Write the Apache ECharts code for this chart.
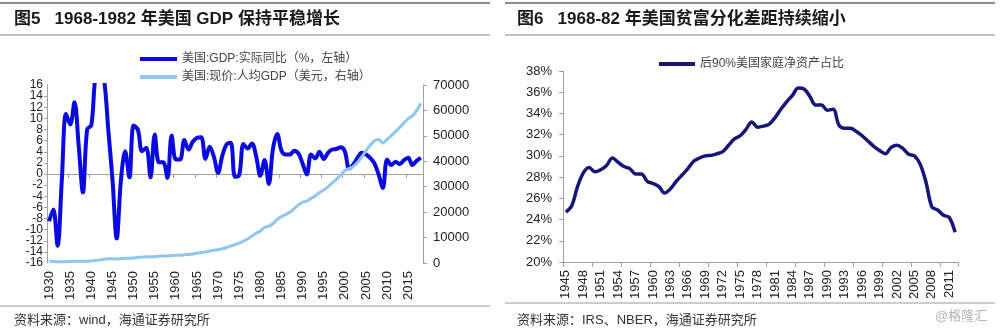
<!DOCTYPE html>
<html>
<head>
<meta charset="utf-8">
<script src="https://cdn.jsdelivr.net/npm/echarts/dist/echarts.min.js"></script>
<style>
html,body{margin:0;padding:0;background:#fff;}
#c{width:1000px;height:330px;}
</style>
</head>
<body>
<div id="c"></div>
<script>
// ---------- Data (left chart) ----------
const gdpYears = ['1930','1931','1932','1933','1934','1935','1936','1937','1938','1939',
'1940','1941','1942','1943','1944','1945','1946','1947','1948','1949',
'1950','1951','1952','1953','1954','1955','1956','1957','1958','1959',
'1960','1961','1962','1963','1964','1965','1966','1967','1968','1969',
'1970','1971','1972','1973','1974','1975','1976','1977','1978','1979',
'1980','1981','1982','1983','1984','1985','1986','1987','1988','1989',
'1990','1991','1992','1993','1994','1995','1996','1997','1998','1999',
'2000','2001','2002','2003','2004','2005','2006','2007','2008','2009',
'2010','2011','2012','2013','2014','2015','2016','2017','2018'];
const gdpGrowth = [-8.5,-6.4,-12.9,-1.2,10.8,8.9,12.9,5.1,-3.3,8.0,
8.8,17.7,18.9,17.0,8.0,-1.0,-11.6,-1.1,4.1,-0.6,
8.7,8.0,4.1,4.7,-0.6,7.1,2.1,2.1,-0.7,6.9,
2.6,2.6,6.1,4.4,5.8,6.5,6.6,2.7,4.9,3.1,
0.2,3.3,5.3,5.6,-0.5,-0.2,5.4,4.6,5.5,3.2,
-0.3,2.5,-1.8,4.6,7.2,4.2,3.5,3.5,4.2,3.7,
1.9,-0.1,3.5,2.8,4.0,2.7,3.8,4.4,4.5,4.8,
4.1,1.0,1.7,2.9,3.8,3.5,2.9,1.9,-0.1,-2.5,
2.6,1.6,2.2,1.8,2.5,2.9,1.6,2.4,2.9];
const gdpPerCapita = [748,624,476,455,528,583,661,722,673,714,
779,969,1231,1486,1623,1631,1611,1734,1874,1828,
1971,2242,2333,2433,2399,2569,2665,2761,2756,2939,
3007,3067,3244,3375,3574,3828,4146,4336,4696,5032,
5234,5609,6094,6726,7226,7801,8592,9453,10565,11674,
12575,13976,14434,15544,17121,18237,19071,20039,21417,22857,
23889,24342,25419,26387,27695,28691,29968,31459,32854,34515,
36330,37134,37998,39490,41725,44123,46302,48050,48570,47195,
48651,50066,51784,53291,55124,56763,57867,59915,62805];
const leftTicks = {min:-16, max:16, step:2};
const rightTicks = {min:0, max:70000, step:10000};
const gdpName = '美国:GDP:实际同比（%，左轴）';
const pcName = '美国:现价:人均GDP（美元，右轴）';

// ---------- Data (right chart) ----------
const wealthYears = ['1945','1946','1947','1948','1949','1950','1951','1952','1953','1954',
'1955','1956','1957','1958','1959','1960','1961','1962','1963','1964',
'1965','1966','1967','1968','1969','1970','1971','1972','1973','1974',
'1975','1976','1977','1978','1979','1980','1981','1982','1983','1984',
'1985','1986','1987','1988','1989','1990','1991','1992','1993','1994',
'1995','1996','1997','1998','1999','2000','2001','2002','2003','2004',
'2005','2006','2007','2008','2009','2010','2011','2012'];
const wealthShare = [24.7,25.3,27.1,28.4,28.9,28.5,28.7,29.1,29.8,29.4,
29.0,28.8,28.3,28.3,27.6,27.4,27.1,26.5,26.9,27.6,
28.2,28.8,29.5,29.8,30.0,30.05,30.2,30.4,31.0,31.6,
31.9,32.5,33.2,32.7,32.8,33.0,33.6,34.4,35.1,35.7,
36.4,36.3,35.6,34.8,34.8,34.3,34.4,32.9,32.6,32.6,
32.3,31.9,31.4,30.9,30.5,30.2,30.8,31.0,30.7,30.15,
30.0,29.2,27.5,25.2,24.9,24.4,24.2,22.8];
const wealthTicks = {min:20, max:38, step:2};
const wealthName = '后90%美国家庭净资产占比';

// ---------- Texts ----------
const title1 = '图5   1968-1982 年美国 GDP 保持平稳增长';
const title2 = '图6   1968-82 年美国贫富分化差距持续缩小';
const source1 = '资料来源：wind，海通证券研究所';
const source2 = '资料来源：IRS、NBER，海通证券研究所';
const watermark = '@格隆汇';

const FONT = '"Liberation Sans", Arial, "Noto Sans CJK SC", sans-serif';
const axisGray = '#a0a0a0';
const labelColor = '#222';

const chart = echarts.init(document.getElementById('c'), null, {renderer:'canvas'});

function hline(x1, x2, y, color, w) {
  return {type:'line', shape:{x1:x1, y1:y, x2:x2, y2:y}, style:{stroke:color, lineWidth:w}, silent:true};
}
function txt(t, x, y, size, weight, color) {
  return {type:'text', x:x, y:y, silent:true,
    style:{text:t, fontSize:size, fontWeight:weight, fontFamily:FONT, fill:color, verticalAlign:'middle', align:'left'}};
}

const option = {
  animation: false,
  backgroundColor: '#fff',
  textStyle: {fontFamily: FONT},
  grid: [
    {left:47, right:577, top:85, bottom:67},
    {left:563, right:42, top:71, bottom:68}
  ],
  legend: [
    {data:[gdpName, pcName], orient:'vertical', left:135, top:47, icon:'rect',
     itemWidth:37, itemHeight:4, itemGap:4,
     textStyle:{fontSize:12, color:'#444', fontFamily:FONT, lineHeight:14}},
    {data:[wealthName], left:654, top:53, icon:'rect',
     itemWidth:36, itemHeight:4,
     textStyle:{fontSize:12, color:'#444', fontFamily:FONT}}
  ],
  xAxis: [
    {gridIndex:0, type:'category', data:gdpYears, boundaryGap:true,
     axisLine:{show:true, onZero:true, onZeroAxisIndex:0, lineStyle:{color:axisGray, width:1}},
     axisTick:{show:true, interval:4, length:4, lineStyle:{color:axisGray}},
     axisLabel:{show:false}, splitLine:{show:false}},
    {gridIndex:0, type:'category', data:gdpYears, boundaryGap:true, position:'bottom',
     axisLine:{show:false, onZero:false}, axisTick:{show:false},
     axisLabel:{show:true, interval:4, rotate:90, fontSize:13, color:labelColor, margin:8},
     splitLine:{show:false}},
    {gridIndex:1, type:'category', data:wealthYears, boundaryGap:true,
     axisLine:{show:true, onZero:false, lineStyle:{color:axisGray, width:1}},
     axisTick:{show:true, interval:4, length:5, lineStyle:{color:axisGray}},
     axisLabel:{show:true, interval:2, rotate:90, fontSize:13, color:labelColor, margin:8},
     splitLine:{show:false}}
  ],
  yAxis: [
    {gridIndex:0, type:'value', min:leftTicks.min, max:leftTicks.max, interval:leftTicks.step,
     axisLine:{show:true, onZero:false, lineStyle:{color:axisGray}},
     axisTick:{show:true, length:3, lineStyle:{color:axisGray}},
     axisLabel:{fontSize:12, color:labelColor, margin:4, showMinLabel:false, showMaxLabel:false},
     splitLine:{show:false}},
    {gridIndex:0, type:'value', position:'right', min:rightTicks.min, max:rightTicks.max, interval:rightTicks.step,
     axisLine:{show:true, onZero:false, lineStyle:{color:axisGray}},
     axisTick:{show:true, length:4, lineStyle:{color:axisGray}},
     axisLabel:{fontSize:13, color:labelColor, margin:10, formatter:function(v){return String(v);}},
     splitLine:{show:false}},
    {gridIndex:1, type:'value', min:wealthTicks.min, max:wealthTicks.max, interval:wealthTicks.step,
     axisLine:{show:true, onZero:false, lineStyle:{color:axisGray}},
     axisTick:{show:true, length:4, lineStyle:{color:axisGray}},
     axisLabel:{fontSize:13, color:labelColor, margin:11, formatter:'{value}%'},
     splitLine:{show:false}},
    // extra label-only axis carrying the end labels (-16 / 16) of the left scale
    {gridIndex:0, type:'value', position:'left', min:leftTicks.min, max:leftTicks.max,
     interval:leftTicks.max - leftTicks.min,
     axisLine:{show:false, onZero:false}, axisTick:{show:false},
     axisLabel:{fontSize:12, color:labelColor, margin:4, showMinLabel:true, showMaxLabel:true},
     splitLine:{show:false}}
  ],
  series: [
    {name:gdpName, type:'line', xAxisIndex:0, yAxisIndex:0, data:gdpGrowth,
     smooth:0.35, showSymbol:false, symbol:'none', color:'#0a0ae0', z:2,
     itemStyle:{color:'#0a0ae0'}, lineStyle:{color:'#0a0ae0', width:4}},
    {name:pcName, type:'line', xAxisIndex:0, yAxisIndex:1, data:gdpPerCapita,
     smooth:0.35, showSymbol:false, symbol:'none', color:'#8ec6f0', z:3,
     itemStyle:{color:'#8ec6f0'}, lineStyle:{color:'#8ec6f0', width:3}},
    {name:wealthName, type:'line', xAxisIndex:2, yAxisIndex:2, data:wealthShare,
     smooth:0.35, showSymbol:false, symbol:'none', color:'#15157a', z:2,
     itemStyle:{color:'#15157a'}, lineStyle:{color:'#15157a', width:3.5}}
  ],
  graphic: [
    hline(0, 490, 3, '#666', 1.5),
    hline(505, 995, 3, '#666', 1.5),
    hline(0, 490, 35, '#888', 1),
    hline(505, 995, 35, '#888', 1),
    hline(0, 490, 306, '#999', 1),
    hline(505, 995, 303, '#999', 1),
    txt(title1, 14, 19, 17, 'bold', '#1a1a1a'),
    txt(title2, 517, 19, 17, 'bold', '#1a1a1a'),
    txt(source1, 14, 320, 13, 'normal', '#333'),
    txt(source2, 517, 320, 13, 'normal', '#333'),
    txt(watermark, 935, 316, 13, 'normal', '#b5b5b5')
  ]
};
chart.setOption(option);
</script>
</body>
</html>
